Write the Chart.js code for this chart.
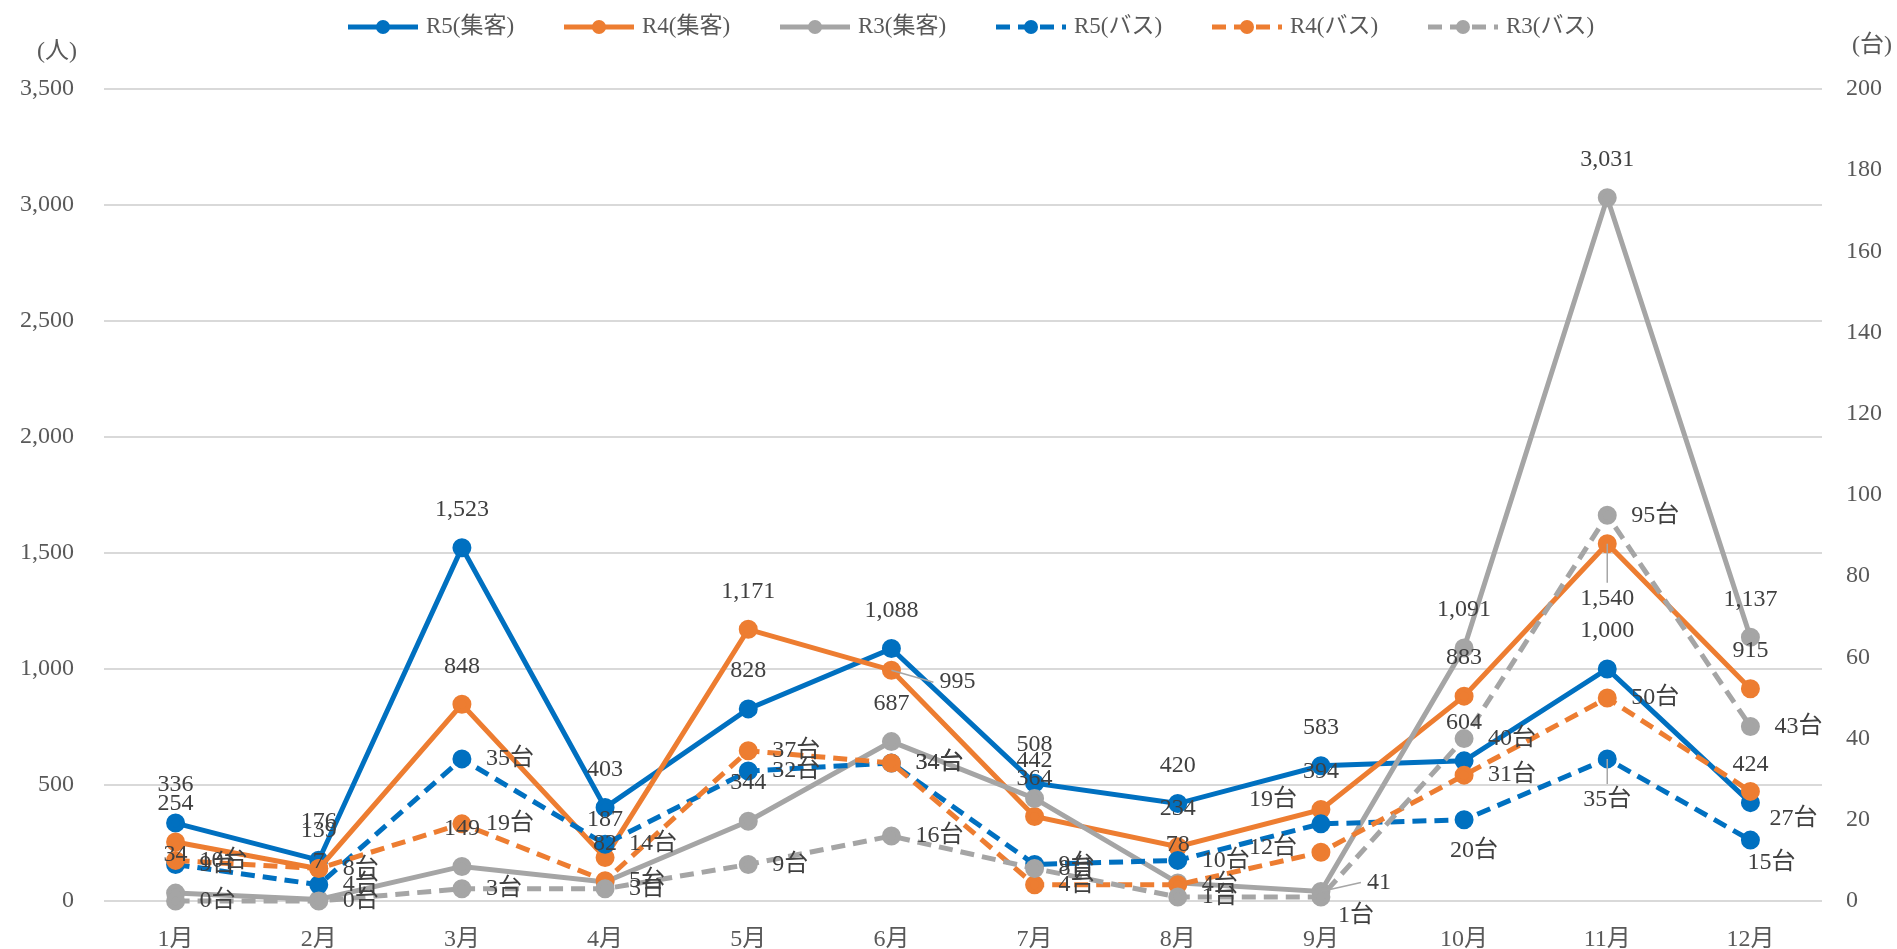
<!DOCTYPE html>
<html lang="ja">
<head>
<meta charset="utf-8">
<title>集客・バス台数 月別推移</title>
<script src="https://cdn.jsdelivr.net/npm/chart.js@4.4.1/dist/chart.umd.min.js"></script>
<style>
  html, body { margin: 0; padding: 0; background: #fff; }
  #wrap { width: 1897px; height: 949px; }
</style>
</head>
<body>
<div id="wrap"><canvas id="chart"></canvas></div>
<script>
// 月
const months = ['1月', '2月', '3月', '4月', '5月', '6月', '7月', '8月', '9月', '10月', '11月', '12月'];

// 集客（人）
const r5Visitors = [336, 176, 1523, 403, 828, 1088, 508, 420, 583, 604, 1000, 424];
const r4Visitors = [254, 139, 848, 187, 1171, 995, 364, 234, 394, 883, 1540, 915];
const r3Visitors = [34, 7, 149, 82, 344, 687, 442, 78, 41, 1091, 3031, 1137];

// バス（台）
const r5Bus = [9, 4, 35, 14, 32, 34, 9, 10, 19, 20, 35, 15];
const r4Bus = [10, 8, 19, 5, 37, 34, 4, 4, 12, 31, 50, 27];
const r3Bus = [0, 0, 3, 3, 9, 16, 8, 1, 1, 40, 95, 43];

// 軸目盛
const leftTicks = { min: 0, max: 3500, step: 500 };
const rightTicks = { min: 0, max: 200, step: 20 };

const FONT = '"Liberation Serif", "Noto Sans CJK JP", serif';
const BLUE = '#0070C0', ORANGE = '#ED7D31', GRAY = '#A5A5A5';

// ラベルの位置（既定: 集客=上, バス=右）と例外
const labelFix = {
  1: { 5: { pos: 'right', dx: 24, dy: 12, leader: true }, 10: { pos: 'below', dy: 17, leader: true } },
  2: { 8: { pos: 'right', dx: 22, dy: -9, leader: true } },
  3: { 8: { pos: 'left', dy: -24 }, 9: { pos: 'below', dx: 10, dy: -7 }, 10: { pos: 'below', dy: 3, leader: true }, 11: { pos: 'below', dx: 21, dy: -15 } },
  4: { 8: { pos: 'left', dy: -5 }, 11: { pos: 'right', dx: -5, dy: 27 } },
  5: { 8: { pos: 'below', dx: 35, dy: -19 } }
};

function series(label, data, color, axis, dashed, idx) {
  return {
    label: label,
    data: data,
    yAxisID: axis,
    borderColor: color,
    backgroundColor: color,
    pointBackgroundColor: color,
    pointBorderColor: color,
    borderWidth: 5,
    borderDash: dashed ? [14, 8] : [],
    pointRadius: 7,
    pointHoverRadius: 7,
    tension: 0,
    clip: false,
    order: 6 - idx,   // 後のシリーズを上に描く
    isBus: dashed
  };
}

const datasets = [
  series('R5(集客)', r5Visitors, BLUE, 'yL', false, 0),
  series('R4(集客)', r4Visitors, ORANGE, 'yL', false, 1),
  series('R3(集客)', r3Visitors, GRAY, 'yL', false, 2),
  series('R5(バス)', r5Bus, BLUE, 'yR', true, 3),
  series('R4(バス)', r4Bus, ORANGE, 'yR', true, 4),
  series('R3(バス)', r3Bus, GRAY, 'yR', true, 5)
];

// データラベル
const dataLabels = {
  id: 'dataLabels',
  afterDatasetsDraw(chart) {
    const ctx = chart.ctx;
    ctx.save();
    ctx.font = '24px ' + FONT;
    chart.data.datasets.forEach((ds, di) => {
      const meta = chart.getDatasetMeta(di);
      meta.data.forEach((pt, i) => {
        const v = ds.data[i];
        const text = v.toLocaleString('en-US') + (ds.isBus ? '台' : '');
        const fix = (labelFix[di] && labelFix[di][i]) || {};
        const pos = fix.pos || (ds.isBus ? 'right' : 'above');
        let x = pt.x, y = pt.y, align = 'center';
        if (pos === 'above') y -= 38;
        if (pos === 'below') y += 38;
        if (pos === 'right') { x += 24; align = 'left'; }
        if (pos === 'left') { x -= 24; align = 'right'; }
        x += fix.dx || 0;
        y += fix.dy || 0;
        if (fix.leader) {
          ctx.strokeStyle = '#A6A6A6';
          ctx.lineWidth = 1.5;
          ctx.setLineDash([]);
          ctx.beginPath();
          ctx.moveTo(pt.x, pt.y);
          if (pos === 'below') ctx.lineTo(x, y - 16);
          else ctx.lineTo(x - 6, y);
          ctx.stroke();
        }
        ctx.fillStyle = '#404040';
        ctx.textAlign = align;
        ctx.textBaseline = 'middle';
        ctx.fillText(text, x, y);
      });
    });
    ctx.restore();
  }
};

// 凡例と単位
const legendAndUnits = {
  id: 'legendAndUnits',
  afterDraw(chart) {
    const ctx = chart.ctx;
    ctx.save();
    ctx.font = '23px ' + FONT;
    ctx.textBaseline = 'middle';
    chart.data.datasets.forEach((ds, i) => {
      const x0 = 348 + i * 216, y = 27;
      ctx.strokeStyle = ds.borderColor;
      ctx.lineWidth = 5;
      ctx.setLineDash(ds.borderDash);
      ctx.beginPath();
      ctx.moveTo(x0, y);
      ctx.lineTo(x0 + 70, y);
      ctx.stroke();
      ctx.setLineDash([]);
      ctx.fillStyle = ds.borderColor;
      ctx.beginPath();
      ctx.arc(x0 + 35, y, 7, 0, Math.PI * 2);
      ctx.fill();
      ctx.fillStyle = '#595959';
      ctx.textAlign = 'left';
      ctx.fillText(ds.label, x0 + 78, y);
    });
    ctx.font = '24px ' + FONT;
    ctx.textAlign = 'center';
    ctx.fillText('(人)', 57, 52);
    ctx.fillText('(台)', 1872, 46);
    ctx.restore();
  }
};

new Chart(document.getElementById('chart'), {
  type: 'line',
  data: { labels: months, datasets: datasets },
  options: {
    responsive: true,
    maintainAspectRatio: false,
    animation: false,
    events: [],
    layout: { padding: { top: 89, left: 0, right: 0, bottom: 0 } },
    plugins: {
      legend: { display: false },
      tooltip: { enabled: false }
    },
    scales: {
      x: {
        offset: true,
        grid: { display: false, drawTicks: false },
        border: { display: false },
        ticks: { color: '#595959', font: { family: FONT, size: 24 }, padding: 24 },
        afterFit(s) { s.height = 48; }
      },
      yL: {
        position: 'left',
        min: leftTicks.min,
        max: leftTicks.max,
        ticks: { stepSize: leftTicks.step, color: '#595959', font: { family: FONT, size: 24 }, padding: 30 },
        grid: { color: '#D9D9D9', lineWidth: 2, drawTicks: false },
        border: { display: false },
        afterFit(s) { s.width = 104; }
      },
      yR: {
        position: 'right',
        min: rightTicks.min,
        max: rightTicks.max,
        ticks: { stepSize: rightTicks.step, color: '#595959', font: { family: FONT, size: 24 }, padding: 24 },
        grid: { drawOnChartArea: false, drawTicks: false },
        border: { display: false },
        afterFit(s) { s.width = 75; }
      }
    }
  },
  plugins: [dataLabels, legendAndUnits]
});
</script>
</body>
</html>
